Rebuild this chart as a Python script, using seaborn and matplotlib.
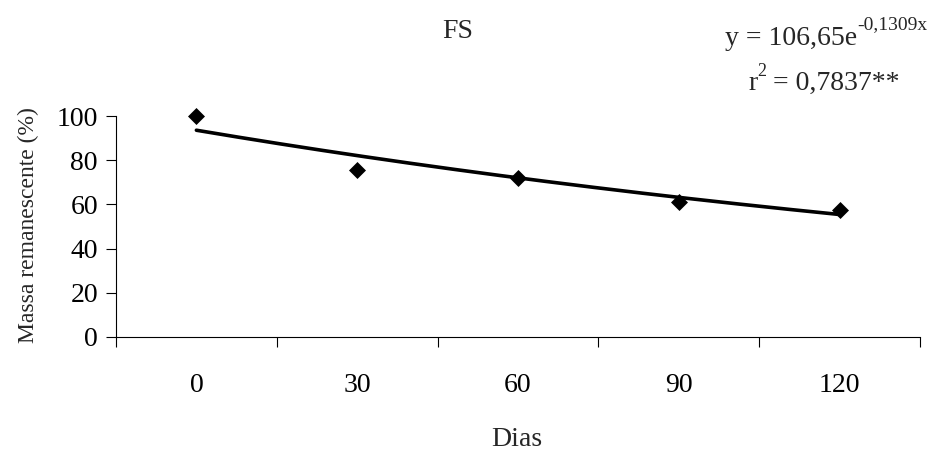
import numpy as np
import pandas as pd
import matplotlib
matplotlib.use("Agg")
import matplotlib.pyplot as plt
import seaborn as sns
from matplotlib.ticker import FixedLocator

# Remaining mass by sampling day
dias = ["0", "30", "60", "90", "120"]
massa = [100.0, 75.6, 72.0, 61.2, 57.5]

# Exponential fit reported on the chart (x = sample index 1..5)
coef_a = 106.65
coef_b = -0.1309
r2_text = "0,7837**"

sns.set_theme(style="white")
plt.rcParams["font.family"] = ["Liberation Serif", "DejaVu Serif"]

fig = plt.figure(figsize=(9.34, 4.55), dpi=100)
ax = fig.add_axes([116 / 934, 1 - 337 / 455, 804 / 934, 221 / 455])

df = pd.DataFrame({"Dias": dias, "Massa": massa})

# Fitted curve over the sampled range
idx = np.linspace(1, len(dias), 200)
fit = pd.DataFrame({"pos": idx - 1, "y": coef_a * np.exp(coef_b * idx)})
sns.lineplot(data=fit, x="pos", y="y", ax=ax, color="black", linewidth=2.6,
             zorder=2)

sns.scatterplot(x=np.arange(len(dias)), y=df["Massa"], ax=ax,
                marker="D", color="black", s=75, edgecolor="black",
                linewidth=0, zorder=3)
for coll in ax.collections:
    coll.set_clip_on(False)

ax.set_xlim(-0.5, len(dias) - 0.5)
ax.set_ylim(0, 100)
ax.set_xticks(range(len(dias)))
ax.set_xticklabels(dias)
ax.xaxis.set_minor_locator(FixedLocator(np.arange(-0.5, len(dias), 1.0)))
ax.set_yticks(range(0, 101, 20))

ax.tick_params(axis="x", which="major", length=0, pad=26, labelsize=20,
               colors="black")
ax.tick_params(axis="x", which="minor", bottom=True, length=7, width=0.8,
               direction="out", color="black")
ax.tick_params(axis="y", which="major", left=True, length=7, width=0.8,
               direction="out", pad=6, labelsize=20, colors="black")

ax.set_xlabel("")
ax.set_ylabel("")
for side in ["top", "right"]:
    ax.spines[side].set_visible(False)
for side in ["left", "bottom"]:
    ax.spines[side].set_color("black")
    ax.spines[side].set_linewidth(0.8)

fig.text(28 / 934, 1 - 225 / 455, "Massa remanescente (%)", rotation=90,
         ha="center", va="center", fontsize=17)
fig.text(517 / 934, 1 - 440 / 455, "Dias", ha="center", va="center",
         fontsize=20)
fig.text(458 / 934, 1 - 31 / 455, "FS", ha="center", va="center", fontsize=20)

t1 = fig.text(725 / 934, 1 - 45 / 455, "y = 106,65e", ha="left",
              va="baseline", fontsize=20)
ax.annotate("-0,1309x", xy=(1.0, 0.72), xycoords=t1, ha="left",
            va="bottom", fontsize=14, annotation_clip=False)
t2 = fig.text(748 / 934, 1 - 90 / 455, "r", ha="left", va="baseline",
              fontsize=20)
t3 = ax.annotate("2", xy=(1.0, 0.62), xycoords=t2, ha="left", va="bottom",
                 fontsize=13, annotation_clip=False)
ax.annotate(" = " + r2_text, xy=(1.0, 0.0), xycoords=(t3, t2), ha="left",
            va="bottom", fontsize=20, annotation_clip=False)

fig.savefig("out.png", dpi=100, facecolor="white")
